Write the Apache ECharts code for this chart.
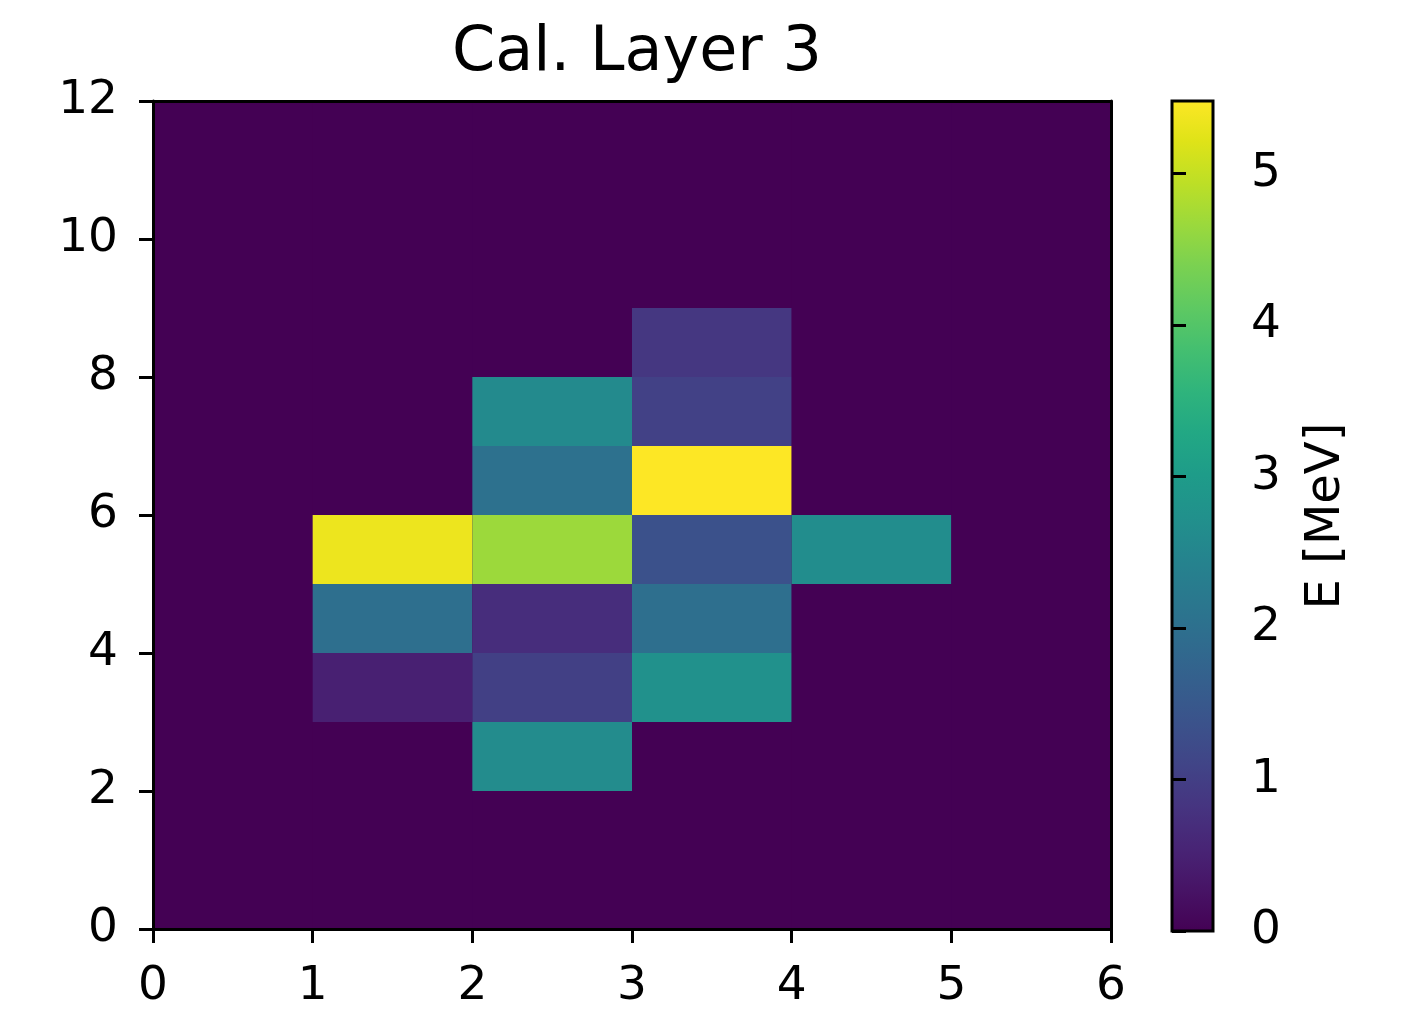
<!DOCTYPE html>
<html>
<head>
<meta charset="utf-8">
<script src="https://cdn.jsdelivr.net/npm/echarts@6/dist/echarts.min.js"></script>
<style>
  html, body { margin: 0; padding: 0; background: #ffffff; }
  #chart { width: 1420px; height: 1010px; }
</style>
</head>
<body>
<div id="chart"></div>
<script>
// Calorimeter layer 3: deposited energy per cell (MeV), 6 columns x 12 rows
const xTickValues = [0, 1, 2, 3, 4, 5, 6];
const yTickValues = [0, 2, 4, 6, 8, 10, 12];
const cbarTickValues = [0, 1, 2, 3, 4, 5];
const energyMax = 5.48;

// energyRows[r][c]: cell spanning y in [r, r+1], x in [c, c+1]
const energyRows = [
  [0, 0,    0,    0,    0,    0],
  [0, 0,    0,    0,    0,    0],
  [0, 0,    2.63, 0,    0,    0],
  [0, 0.49, 1.02, 2.74, 0,    0],
  [0, 1.98, 0.71, 1.98, 0,    0],
  [0, 5.33, 4.67, 1.35, 2.66, 0],
  [0, 0,    2.03, 5.48, 0,    0],
  [0, 0,    2.60, 1.05, 0,    0],
  [0, 0,    0,    0.88, 0,    0],
  [0, 0,    0,    0,    0,    0],
  [0, 0,    0,    0,    0,    0],
  [0, 0,    0,    0,    0,    0]
];

// viridis colormap, sampled every 0.05
const viridis = [
  '#440154', '#471365', '#482475', '#463480', '#414487', '#3b528b',
  '#355f8d', '#2f6c8e', '#2a788e', '#25848e', '#21918c', '#1e9c89',
  '#22a884', '#2fb47c', '#44bf70', '#5ec962', '#7ad151', '#9bd93c',
  '#bddf26', '#dfe318', '#fde725'
];

const FONT = 'DejaVu Sans';
const INK = '#000000';
const LINE_W = 3;

const cells = [];
energyRows.forEach((row, r) => row.forEach((v, c) => cells.push([c, r, v])));

const chart = echarts.init(document.getElementById('chart'), null, { renderer: 'canvas' });

const spine = { show: true, onZero: false, lineStyle: { color: INK, width: LINE_W } };
const tick = { show: true, inside: false, length: 14, lineStyle: { color: INK, width: LINE_W } };
const tickFont = { fontFamily: FONT, fontSize: 47, color: INK };

const option = {
  animation: false,
  backgroundColor: '#ffffff',
  title: {
    text: 'Cal. Layer 3',
    left: 632,
    top: 18,
    textAlign: 'center',
    textStyle: { fontFamily: FONT, fontSize: 62, fontWeight: 'normal', color: INK }
  },
  grid: [
    { left: 153, top: 101, width: 958, height: 830, show: true, backgroundColor: viridis[0], borderWidth: 0 },
    { left: 1172, top: 101, width: 41, height: 830 }
  ],
  xAxis: [
    {
      gridIndex: 0, type: 'value', min: 0, max: 6, interval: 1, position: 'bottom', z: 5,
      axisLine: spine, axisTick: Object.assign({ customValues: xTickValues }, tick),
      axisLabel: Object.assign({ margin: 34, customValues: xTickValues }, tickFont),
      splitLine: { show: false }
    },
    {
      gridIndex: 0, type: 'value', min: 0, max: 6, position: 'top', z: 5,
      axisLine: spine, axisTick: { show: false }, axisLabel: { show: false }, splitLine: { show: false }
    },
    { gridIndex: 1, type: 'value', min: 0, max: 1, show: false }
  ],
  yAxis: [
    {
      gridIndex: 0, type: 'value', min: 0, max: 12, interval: 2, position: 'left', z: 5,
      axisLine: spine, axisTick: Object.assign({ customValues: yTickValues }, tick),
      axisLabel: Object.assign({ margin: 35, customValues: yTickValues }, tickFont),
      splitLine: { show: false }
    },
    {
      gridIndex: 0, type: 'value', min: 0, max: 12, position: 'right', z: 5,
      axisLine: spine, axisTick: { show: false }, axisLabel: { show: false }, splitLine: { show: false }
    },
    {
      gridIndex: 1, type: 'value', min: 0, max: energyMax, position: 'right', z: 5,
      axisLine: { show: false },
      axisTick: Object.assign({ customValues: cbarTickValues }, tick),
      axisLabel: Object.assign({ margin: 38, customValues: cbarTickValues }, tickFont),
      splitLine: { show: false },
      name: 'E [MeV]',
      nameLocation: 'middle',
      nameRotate: 90,
      nameGap: 90,
      nameTextStyle: { fontFamily: FONT, fontSize: 48, color: INK }
    }
  ],
  visualMap: {
    show: false,
    type: 'continuous',
    seriesIndex: 0,
    dimension: 2,
    min: 0,
    max: energyMax,
    inRange: { color: viridis }
  },
  series: [
    {
      name: 'energy',
      type: 'custom',
      xAxisIndex: 0,
      yAxisIndex: 0,
      encode: { x: 0, y: 1 },
      data: cells,
      renderItem: function (params, api) {
        const c = api.value(0);
        const r = api.value(1);
        const topLeft = api.coord([c, r + 1]);
        const bottomRight = api.coord([c + 1, r]);
        const color = api.visual('color');
        return {
          type: 'rect',
          shape: {
            x: topLeft[0], y: topLeft[1],
            width: bottomRight[0] - topLeft[0],
            height: bottomRight[1] - topLeft[1]
          },
          style: { fill: color }
        };
      }
    },
    {
      name: 'colorbar',
      type: 'custom',
      xAxisIndex: 2,
      yAxisIndex: 2,
      encode: { x: 0, y: 1 },
      data: [[0, energyMax]],
      renderItem: function (params, api) {
        const top = api.coord([0, api.value(1)]);
        const bottom = api.coord([1, 0]);
        const stops = viridis.map((c, i) => ({ offset: i / (viridis.length - 1), color: c }));
        return {
          type: 'rect',
          z2: 10,
          shape: { x: top[0], y: top[1], width: bottom[0] - top[0], height: bottom[1] - top[1] },
          style: {
            fill: new echarts.graphic.LinearGradient(0, 1, 0, 0, stops),
            stroke: INK,
            lineWidth: LINE_W
          }
        };
      }
    }
  ]
};

chart.setOption(option);
</script>
</body>
</html>
